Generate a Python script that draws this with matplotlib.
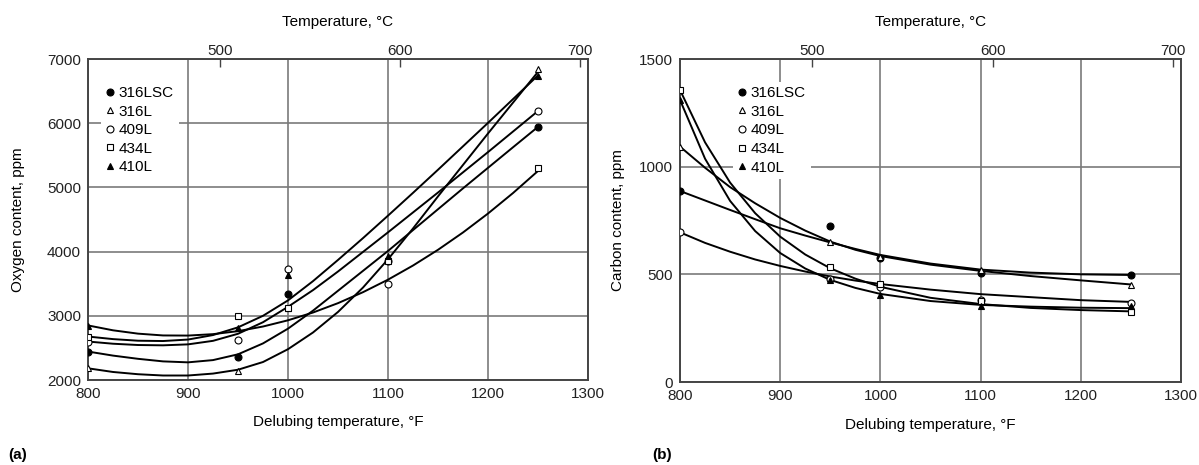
import numpy as np
import matplotlib.pyplot as plt
from matplotlib.lines import Line2D

plt.rcParams['font.family'] = ['Liberation Sans', 'DejaVu Sans']

alloys = ['316LSC', '316L', '409L', '434L', '410L']
styles = {'316LSC': ('o', 'black'), '316L': ('^', 'white'), '409L': ('o', 'white'),
          '434L': ('s', 'white'), '410L': ('^', 'black')}

# ---- (a) oxygen content, ppm ----
ox_temp = [800, 950, 1000, 1100, 1250]
ox_points = {
    '316LSC': [2443, 2365, 3344, 3860, 5943],
    '316L':   [2182, 2146, 3120, 3900, 6844],
    '409L':   [2599, 2625, 3734, 3495, 6183],
    '434L':   [2677, 2990, 3120, 3849, 5297],
    '410L':   [2844, 2807, 3641, 3927, 6739],
}
ox_curve_temp = [800, 825, 850, 875, 900, 925, 950, 975, 1000, 1025,
                 1050, 1075, 1100, 1125, 1150, 1175, 1200, 1225, 1250]
ox_curves = {
    '316LSC': [2443, 2380, 2330, 2290, 2275, 2310, 2400, 2570, 2800, 3080,
               3390, 3700, 4010, 4335, 4660, 4985, 5305, 5625, 5943],
    '316L':   [2182, 2125, 2090, 2070, 2070, 2100, 2160, 2280, 2480, 2740,
               3060, 3440, 3880, 4360, 4860, 5350, 5840, 6320, 6800],
    '409L':   [2599, 2565, 2545, 2540, 2555, 2610, 2720, 2900, 3140, 3400,
               3690, 3995, 4300, 4610, 4920, 5235, 5550, 5870, 6190],
    '434L':   [2850, 2774, 2722, 2694, 2692, 2714, 2761, 2833, 2930, 3051,
               3197, 3368, 3563, 3783, 4028, 4298, 4593, 4912, 5256],
    '410L':   [2677, 2637, 2612, 2607, 2630, 2700, 2820, 3000, 3240, 3540,
               3870, 4210, 4560, 4915, 5275, 5640, 6005, 6375, 6745],
}

# ---- (b) carbon content, ppm ----
c_temp = [800, 950, 1000, 1100, 1250]
c_points = {
    '316LSC': [887, 726, 575, 505, 497],
    '316L':   [1093, 652, 582, 520, 451],
    '409L':   [695, 480, 440, 380, 369],
    '434L':   [1356, 536, 457, 376, 327],
    '410L':   [1310, 474, 404, 353, 353],
}
c_curve_temp = [800, 825, 850, 875, 900, 925, 950, 975, 1000, 1050, 1100, 1150, 1200, 1250]
c_curves = {
    '316LSC': [887, 843, 799, 756, 714, 680, 648, 618, 590, 550, 522, 508, 500, 497],
    '316L':   [1093, 995, 905, 830, 762, 703, 652, 614, 585, 545, 516, 492, 472, 453],
    '409L':   [695, 646, 605, 569, 539, 513, 490, 471, 455, 429, 408, 394, 380, 372],
    '434L':   [1356, 1113, 926, 784, 675, 592, 528, 480, 442, 391, 362, 344, 334, 328],
    '410L':   [1310, 1037, 841, 701, 599, 527, 474, 437, 409, 376, 358, 350, 345, 343],
}

fig = plt.figure(figsize=(11.99, 4.65), dpi=100)
ax1 = fig.add_axes([88 / 1199, 1 - 380 / 465, 500 / 1199, 321 / 465])
ax2 = fig.add_axes([680 / 1199, 1 - 382 / 465, 501 / 1199, 323 / 465])

fs = 11


def f2c(f):
    return (np.asarray(f) - 32) * 5 / 9


def c2f(c):
    return np.asarray(c) * 9 / 5 + 32


def draw_panel(ax, temps, points, ctemps, curves, ylim, yticks, ylabel, leg_x, ylab_x):
    for name in alloys:
        ax.plot(ctemps, curves[name], color='black', lw=1.4, zorder=3)
    for name in alloys:
        m, fc = styles[name]
        ax.plot(temps, points[name], ls='none', marker=m, ms=5, mfc=fc,
                mec='black', mew=0.8, zorder=4)
    ax.set_xlim(800, 1300)
    ax.set_ylim(*ylim)
    ax.set_xticks([800, 900, 1000, 1100, 1200, 1300])
    ax.set_yticks(yticks)
    ax.grid(True, color='#7a7a7a', lw=1.2, zorder=0)
    ax.set_axisbelow(True)
    for s in ax.spines.values():
        s.set_color('#444444')
        s.set_linewidth(1.4)
    ax.tick_params(length=0, labelsize=fs, pad=5, colors='#222222')
    ax.set_xlabel('Delubing temperature, °F', fontsize=fs)
    ax.xaxis.set_label_coords(0.5, -0.11)
    ax.set_ylabel(ylabel, fontsize=fs)
    ax.yaxis.set_label_coords(ylab_x, 0.5)

    top = ax.secondary_xaxis('top', functions=(f2c, c2f))
    top.set_xticks([500, 600, 700])
    top.tick_params(direction='in', length=6, width=1, colors='#444444',
                    labelsize=fs, pad=1, labelcolor='#222222')
    top.spines['top'].set_visible(False)
    top.set_xlabel('Temperature, °C', fontsize=fs, labelpad=13)

    handles = []
    for name in alloys:
        m, fc = styles[name]
        handles.append(Line2D([], [], ls='none', marker=m, ms=5, mfc=fc,
                              mec='black', mew=0.8))
    leg = ax.legend(handles, alloys, loc='upper left', bbox_to_anchor=(leg_x, 0.93),
                    fontsize=fs, frameon=True, framealpha=1, facecolor='white',
                    edgecolor='none', fancybox=False, handlelength=0.6,
                    handletextpad=0.3, labelspacing=0.3, borderpad=0.3,
                    borderaxespad=0)
    leg.set_zorder(2)


draw_panel(ax1, ox_temp, ox_points, ox_curve_temp, ox_curves, (2000, 7000),
           [2000, 3000, 4000, 5000, 6000, 7000], 'Oxygen content, ppm', 0.025, -0.125)
draw_panel(ax2, c_temp, c_points, c_curve_temp, c_curves, (0, 1500),
           [0, 500, 1000, 1500], 'Carbon content, ppm', 0.105, -0.11)

fig.text(8 / 1199, 1 - 455 / 465, '(a)', fontsize=fs, fontweight='bold', va='center')
fig.text(652 / 1199, 1 - 455 / 465, '(b)', fontsize=fs, fontweight='bold', va='center')

fig.savefig('out.png', dpi=100)
